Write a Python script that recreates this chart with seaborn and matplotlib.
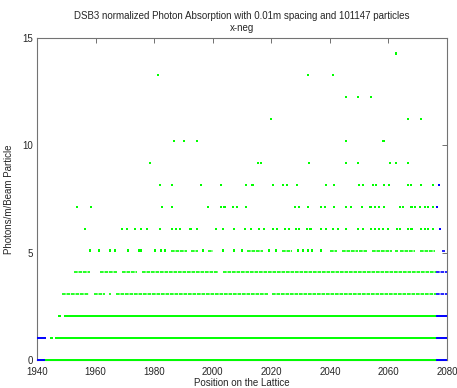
import numpy as np
import pandas as pd
import matplotlib
matplotlib.use("Agg")
import matplotlib.pyplot as plt
import seaborn as sns

# ---------------- data ----------------
LEVEL_STEP = 1.02  # photons/m/beam particle per count level

# sparse green points: level index -> positions on the lattice
green_points = {
    14: [2062.6],
    13: [1981.3, 2032.6, 2041.2],
    12: [2045.5, 2049.6, 2054.0],
    11: [2020.0, 2066.7, 2071.2],
    10: [1986.8, 1990.1, 1994.5, 2045.5, 2058.3],
    9: [1978.7, 2015.6, 2016.5, 2032.8, 2045.5, 2049.6, 2060.4, 2062.7, 2066.7],
    8: [1981.9, 1986.0, 1996.0, 2002.8, 2011.4, 2013.6, 2020.5, 2024.1, 2025.5,
        2028.7, 2038.6, 2041.4, 2050.0, 2051.2, 2054.6, 2055.7, 2058.4, 2060.1,
        2066.8, 2067.7, 2071.1, 2075.3],
    7: [1953.7, 1958.4, 1982.8, 1986.0, 1998.5, 2002.8, 2004.0, 2007.0, 2008.3,
        2011.4, 2028.2, 2029.6, 2032.6, 2037.0, 2038.3, 2041.4, 2045.5, 2047.2,
        2050.9, 2053.9, 2055.4, 2056.9, 2058.5, 2063.9, 2064.9, 2067.9, 2069.1,
        2070.8, 2072.5, 2073.6, 2075.3],
    6: [1956.5, 1969.0, 1970.7, 1973.4, 1975.5, 1977.6, 1981.9, 1986.1, 1987.6,
        1988.9, 1992.4, 1994.5, 2001.0, 2003.4, 2007.4, 2011.0, 2013.1, 2015.9,
        2017.5, 2020.7, 2022.0, 2024.7, 2026.0, 2028.4, 2029.6, 2032.3, 2033.4,
        2037.0, 2038.7, 2041.2, 2042.9, 2045.5, 2049.7, 2051.2, 2054.0, 2055.4,
        2056.9, 2058.2, 2059.9, 2062.8, 2063.9, 2066.8, 2067.9, 2071.1, 2072.5,
        2073.6, 2075.3],
    5: [1958.0, 1961.3, 1965.0, 1966.5, 1971.1, 1974.7, 1975.5, 1980.4, 1982.4,
        1983.8, 1996.6, 2003.4, 2007.4, 2009.9, 2019.3, 2021.6, 2029.2, 2030.9,
        2032.6, 2033.8, 2037.0],
    2: [1947.7],
}

# dense green runs: level index -> (start, end) of continuous coverage
green_runs = {
    5: [(1985.9, 1991.3), (1992.6, 1995.1), (1998.5, 2000.2), (2011.6, 2017.3),
        (2023.5, 2027.0), (2040.0, 2042.3), (2044.0, 2049.7), (2050.0, 2052.6),
        (2054.3, 2061.1), (2062.2, 2063.4), (2063.9, 2069.1), (2070.8, 2076.0)],
    4: [(1952.7, 1958.2), (1961.4, 1967.3), (1969.0, 1974.1), (1975.8, 2001.8),
        (2003.5, 2076.2)],
    3: [(1948.5, 1957.6), (1959.4, 1963.3), (1964.5, 1965.3), (1967.0, 2019.0),
        (2020.1, 2076.2)],
    2: [(1949.3, 2076.2)],
    1: [(1944.5, 1945.5), (1946.2, 2076.2)],
    0: [(1942.8, 2076.2)],
}

# blue (outside region) points and runs
blue_points = {8: [2077.2], 7: [2076.5], 6: [2077.6]}
blue_runs = {
    5: [(2078.2, 2079.3)],
    4: [(2076.2, 2080.0)],
    3: [(2076.2, 2080.0)],
    2: [(2076.2, 2080.0)],
    1: [(1940.0, 1943.2), (2076.2, 2080.0)],
    0: [(1940.0, 1942.8), (2076.2, 2080.0)],
}

x_ticks = [1940, 1960, 1980, 2000, 2020, 2040, 2060, 2080]
y_ticks = [0, 5, 10, 15]
title = "DSB3 normalized Photon Absorption with 0.01m spacing and 101147 particles\nx-neg"
x_label = "Position on the Lattice"
y_label = "Photons/m/Beam Particle"

GREEN = "#00ff00"
BLUE = "#0000ff"

# ---------------- build table ----------------
rows = []
for lvl, xs in green_points.items():
    for x in xs:
        rows.append((x, lvl * LEVEL_STEP, "green"))
for lvl, xs in blue_points.items():
    for x in xs:
        rows.append((x, lvl * LEVEL_STEP, "blue"))
df = pd.DataFrame(rows, columns=["x", "y", "region"])

# ---------------- plot ----------------
sns.set_theme(style="white")
plt.rcParams["font.family"] = ["Liberation Sans", "DejaVu Sans"]

fig = plt.figure(figsize=(4.57, 3.88), dpi=100)
ax = fig.add_axes([37 / 457, 28 / 388, 410 / 457, 322 / 388])

sns.scatterplot(data=df, x="x", y="y", hue="region",
                palette={"green": GREEN, "blue": BLUE},
                marker="s", s=2.5, linewidth=0, legend=False, ax=ax, zorder=3)

for runs, col in ((green_runs, GREEN), (blue_runs, BLUE)):
    for lvl, segs in runs.items():
        style = (0, (2.2, 0.5)) if lvl >= 3 else "solid"
        lw = 1.2 if lvl >= 3 else 1.4
        for a, b in segs:
            ax.hlines(lvl * LEVEL_STEP, a, b, colors=col, linewidth=lw,
                      linestyles=style, zorder=4, clip_on=False)

ax.set_xlim(1940, 2080)
ax.set_ylim(0, 15)
ax.set_xticks(x_ticks)
ax.set_yticks(y_ticks)
ax.tick_params(direction="in", length=3.5, width=0.6, color="0.35",
               labelsize=7, top=True, right=True)
ax.tick_params(axis="x", pad=5)
ax.tick_params(axis="y", pad=3)
for sp in ax.spines.values():
    sp.set_visible(True)
    sp.set_color("0.45")
    sp.set_linewidth(0.8)

ax.set_xlabel(x_label, fontsize=7, labelpad=1)
ax.set_ylabel(y_label, fontsize=7, labelpad=6)
ax.set_title(title, fontsize=7, pad=5, linespacing=1.3)

fig.savefig("out.png", dpi=100)
